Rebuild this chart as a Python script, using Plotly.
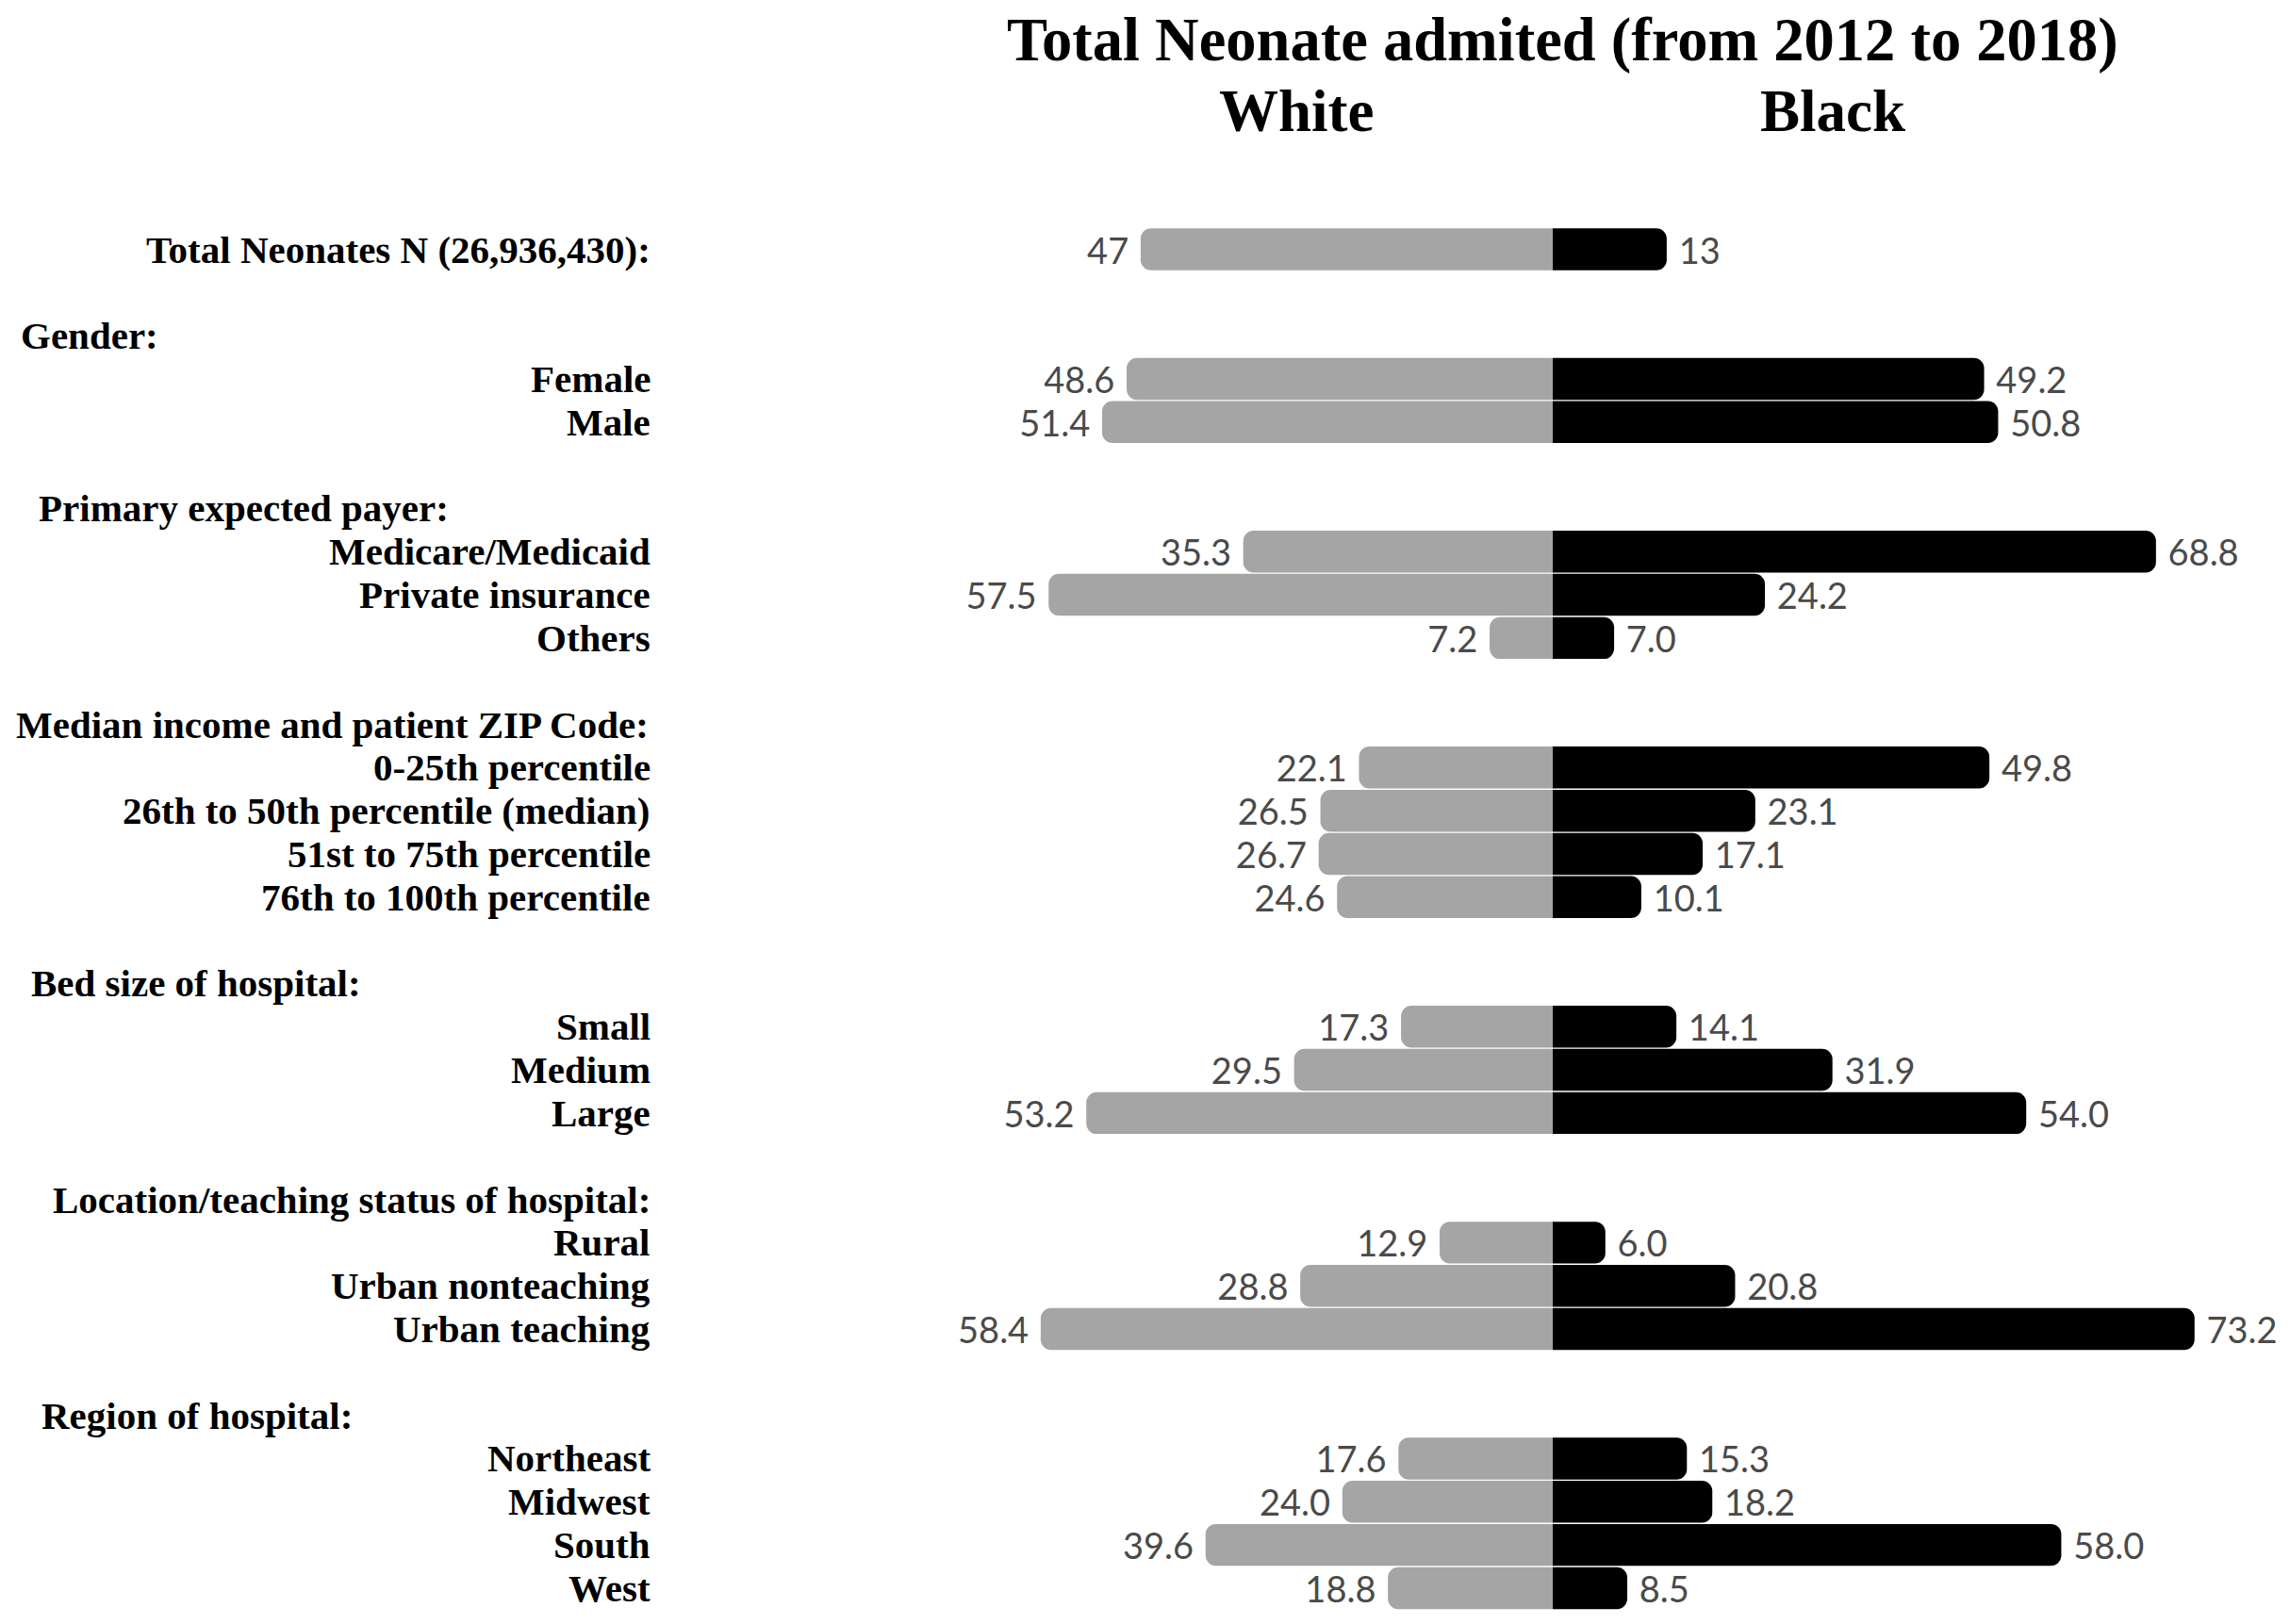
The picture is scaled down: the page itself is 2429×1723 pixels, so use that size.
import plotly.graph_objects as go

# ---------------- data ----------------
title_text = "Total Neonate admited (from 2012 to 2018)"
series_names = ["White", "Black"]

total_label = "Total Neonates N (26,936,430):"
total_white = 47
total_black = 13

group_headers = [
    "Gender:",
    "Primary expected payer:",
    "Median income and patient ZIP Code:",
    "Bed size of hospital:",
    "Location/teaching status of hospital:",
    "Region of hospital:",
]
group_items = [
    ["Female", "Male"],
    ["Medicare/Medicaid", "Private insurance", "Others"],
    ["0-25th percentile", "26th to 50th percentile (median)", "51st to 75th percentile", "76th to 100th percentile"],
    ["Small", "Medium", "Large"],
    ["Rural", "Urban nonteaching", "Urban teaching"],
    ["Northeast", "Midwest", "South", "West"],
]
white_values = [
    [48.6, 51.4],
    [35.3, 57.5, 7.2],
    [22.1, 26.5, 26.7, 24.6],
    [17.3, 29.5, 53.2],
    [12.9, 28.8, 58.4],
    [17.6, 24.0, 39.6, 18.8],
]
black_values = [
    [49.2, 50.8],
    [68.8, 24.2, 7.0],
    [49.8, 23.1, 17.1, 10.1],
    [14.1, 31.9, 54.0],
    [6.0, 20.8, 73.2],
    [15.3, 18.2, 58.0, 8.5],
]

# ---------------- layout constants (page pixels) ----------------
PAGE_W, PAGE_H = 2429, 1723
OFF = 8                                   # default body margin of the html page
FW, FH = PAGE_W - 2 * OFF, PAGE_H - 2 * OFF
ROW0_PX, ROW_PX = 264.5, 45.82            # centre of first row, spacing
ZERO_PX, UNIT_PX = 1647.0, 9.30           # x=0 position, px per percent
X_DOMAIN = [0.40, 0.99]
LABEL_RIGHT_PX = 692
HEADER_LEFT_PX = [20, 39, 15, 31, 54, 42]
TITLE_POS = (1657, 43)
SERIES_POS = [(1375, 118), (1944, 118)]
GRAY = "#A5A5A5"
BLACK = "#000000"
VAL_COLOR = "#4a4a4a"
SERIF = "Liberation Serif"
SANS = "Lato"


def px_x(px):
    return (px - OFF) / FW


def px_y(py):
    return 1 - (py - OFF) / FH


# build rows (slot index per row)
rows_y, rows_label, rows_w, rows_b, rows_txt_w, rows_txt_b = [], [], [], [], [], []
rows_y.append(0); rows_label.append(total_label)
rows_w.append(total_white); rows_b.append(total_black)
rows_txt_w.append(f"{total_white:.0f}\u00a0"); rows_txt_b.append(f"\u00a0{total_black:.0f}")
header_slots = []
slot = 0
for hdr, items, wv, bv in zip(group_headers, group_items, white_values, black_values):
    slot += 2
    header_slots.append(slot)
    for it, w, b in zip(items, wv, bv):
        slot += 1
        rows_y.append(slot); rows_label.append(it)
        rows_w.append(w); rows_b.append(b)
        rows_txt_w.append(f"{w:.1f}\u00a0"); rows_txt_b.append(f"\u00a0{b:.1f}")

fig = go.Figure()
fig.add_trace(go.Bar(
    y=rows_y, x=rows_b, orientation="h", name=series_names[1],
    marker=dict(color=BLACK, cornerradius=11, line=dict(width=0)),
    width=0.97, text=rows_txt_b, textposition="outside", constraintext="none",
    cliponaxis=False, textfont=dict(family=SANS, size=38, color=VAL_COLOR),
    hoverinfo="skip",
))
fig.add_trace(go.Bar(
    y=rows_y, x=[-v for v in rows_w], orientation="h", name=series_names[0],
    marker=dict(color=GRAY, cornerradius=11, line=dict(width=0)),
    width=0.97, text=rows_txt_w, textposition="outside", constraintext="none",
    cliponaxis=False, textfont=dict(family=SANS, size=38, color=VAL_COLOR),
    hoverinfo="skip",
))

zero_fig = ZERO_PX - OFF
xmin = (X_DOMAIN[0] * FW - zero_fig) / UNIT_PX
xmax = (X_DOMAIN[1] * FW - zero_fig) / UNIT_PX
row0_fig = ROW0_PX - OFF
ybot = (FH - row0_fig) / ROW_PX
ytop = -row0_fig / ROW_PX

annotations = []
# title and series headings
annotations.append(dict(text=f"<b>{title_text}</b>", xref="paper", yref="paper",
                        x=px_x(TITLE_POS[0]), y=px_y(TITLE_POS[1]),
                        xanchor="center", yanchor="middle",
                        showarrow=False, font=dict(family=SERIF, size=64.5, color="#000")))
for name, (cx, cy) in zip(series_names, SERIES_POS):
    annotations.append(dict(text=f"<b>{name}</b>", xref="paper", yref="paper",
                            x=px_x(cx), y=px_y(cy), xanchor="center", yanchor="middle",
                            showarrow=False, font=dict(family=SERIF, size=63, color="#000")))
# row labels
for yv, lab in zip(rows_y, rows_label):
    annotations.append(dict(text=f"<b>{lab}</b>", xref="paper", yref="y",
                            x=px_x(LABEL_RIGHT_PX), y=yv, xanchor="right", yanchor="middle",
                            showarrow=False, font=dict(family=SERIF, size=41, color="#000")))
# group headers
for hs, hdr, lx in zip(header_slots, group_headers, HEADER_LEFT_PX):
    annotations.append(dict(text=f"<b>{hdr}</b>", xref="paper", yref="y",
                            x=px_x(lx), y=hs, xanchor="left", yanchor="middle",
                            showarrow=False, font=dict(family=SERIF, size=41, color="#000")))

fig.update_layout(
    width=FW, height=FH,
    margin=dict(l=0, r=0, t=0, b=0),
    paper_bgcolor="white", plot_bgcolor="white",
    barmode="overlay", showlegend=False,
    xaxis=dict(domain=X_DOMAIN, range=[xmin, xmax], visible=False, fixedrange=True),
    yaxis=dict(domain=[0, 1], range=[ybot, ytop], visible=False, fixedrange=True),
    annotations=annotations,
)

fig.write_html("out.html")
